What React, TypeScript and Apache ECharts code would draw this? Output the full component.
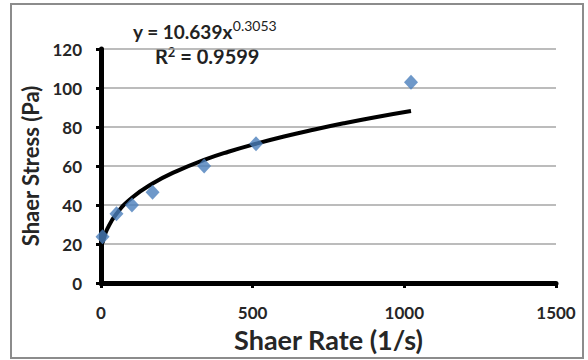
import React, { useEffect, useRef } from "react";
import * as echarts from "echarts";

const shearRate = [5.1, 51, 102, 170, 340, 511, 1022];
const shearStress = [23.7, 35.5, 40, 46.5, 60, 71.4, 103];

// trendline points (y = 10.639x^0.3053)
const trendX = [5, 10, 20, 51, 102, 170, 250, 340, 420, 511, 600, 700, 800, 900, 1022];
const trendY = [20.5, 23, 27.5, 35.5, 43.7, 51, 57.4, 63.1, 67.3, 71.4, 75, 78.6, 81.9, 84.9, 88.2];

const xTicks = [0, 500, 1000, 1500];
const yTicks = [0, 20, 40, 60, 80, 100, 120];

const FONT = "Lato, 'Open Sans', 'Noto Sans', sans-serif";

export default function App() {
  const ref = useRef<HTMLDivElement>(null);
  useEffect(() => {
    if (!ref.current) return;
    const chart = echarts.init(ref.current, null, { renderer: "svg" });
    chart.setOption({
      animation: false,
      backgroundColor: "#ffffff",
      grid: { left: 101, right: 32, top: 49, bottom: 77, containLabel: false },
      xAxis: {
        type: "value",
        min: xTicks[0],
        max: xTicks[xTicks.length - 1],
        interval: 500,
        name: "Shaer Rate (1/s)",
        nameLocation: "middle",
        nameGap: 41,
        nameTextStyle: { fontFamily: FONT, fontWeight: "bold", fontSize: 27, color: "#262626" },
        axisLine: { show: true, onZero: false, lineStyle: { color: "#000", width: 5 } },
        axisTick: { show: true, length: 5, lineStyle: { color: "#000", width: 3 } },
        axisLabel: {
          fontFamily: FONT, fontWeight: "bold", fontSize: 17, color: "#262626", margin: 21,
          formatter: (v: number) => String(v),
        },
        splitLine: { show: false },
      },
      yAxis: {
        type: "value",
        min: yTicks[0],
        max: yTicks[yTicks.length - 1],
        interval: 20,
        name: "Shaer Stress (Pa)",
        nameLocation: "middle",
        nameGap: 55,
        nameTextStyle: { fontFamily: FONT, fontWeight: "bold", fontSize: 22, color: "#262626" },
        axisLine: { show: true, onZero: false, lineStyle: { color: "#000", width: 5 } },
        axisTick: { show: true, length: 5, lineStyle: { color: "#000", width: 3 } },
        axisLabel: {
          fontFamily: FONT, fontWeight: "bold", fontSize: 17, color: "#262626", margin: 19,
          formatter: (v: number) => String(v),
        },
        splitLine: { show: true, lineStyle: { color: "#a6a6a6", width: 1.5 } },
      },
      series: [
        {
          type: "line",
          data: trendX.map((x, i) => [x, trendY[i]]),
          smooth: true,
          showSymbol: false,
          symbol: "none",
          lineStyle: { color: "#000", width: 4 },
          z: 2,
        },
        {
          type: "scatter",
          data: shearRate.map((x, i) => [x, shearStress[i]]),
          symbol: "diamond",
          symbolSize: [14, 15],
          itemStyle: { color: "#4a7ebb" },
          z: 3,
        },
      ],
      graphic: [
        {
          type: "rect",
          shape: { x: 11, y: 4, width: 572, height: 354 },
          style: { fill: "none", stroke: "#8c8c8c", lineWidth: 2 },
          silent: true,
        },
        {
          type: "text",
          x: 133,
          y: 18,
          style: {
            text: "{a|y = 10.639x}{s|0.3053}",
            rich: {
              a: { fontFamily: FONT, fontWeight: "bold", fontSize: 19, fill: "#222", verticalAlign: "bottom" },
              s: { fontFamily: FONT, fontWeight: "normal", fontSize: 14, fill: "#222", padding: [0, 0, 9, 0], verticalAlign: "bottom" },
            },
          },
        },
        {
          type: "text",
          x: 155,
          y: 45,
          style: {
            text: "{a|R}{s|2}{a| = 0.9599}",
            rich: {
              a: { fontFamily: FONT, fontWeight: "bold", fontSize: 20, fill: "#222", verticalAlign: "bottom" },
              s: { fontFamily: FONT, fontWeight: "bold", fontSize: 13, fill: "#222", padding: [0, 0, 8, 0], verticalAlign: "bottom" },
            },
          },
        },
      ],
    });
    return () => chart.dispose();
  }, []);
  return (
    <div
      ref={ref}
      style={{ position: "fixed", left: 0, top: 0, width: 588, height: 360 }}
    />
  );
}
